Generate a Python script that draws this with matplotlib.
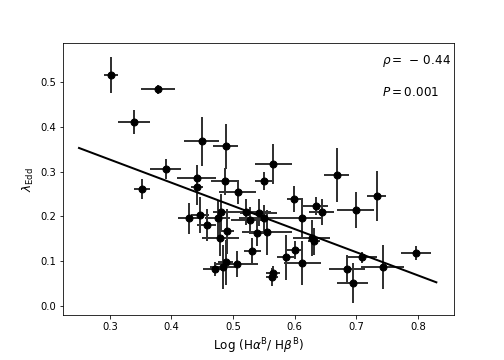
import numpy as np
import matplotlib
matplotlib.use("Agg")
import matplotlib.pyplot as plt

# Balmer decrement vs Eddington ratio
log_dec = [0.302, 0.378, 0.339, 0.449, 0.488, 0.391, 0.565, 0.352, 0.441, 0.441,
           0.487, 0.508, 0.550, 0.428, 0.446, 0.457, 0.475, 0.480, 0.479, 0.490,
           0.521, 0.527, 0.542, 0.550, 0.539, 0.555, 0.531, 0.506, 0.488, 0.483,
           0.470, 0.565, 0.563, 0.586, 0.600, 0.612, 0.628, 0.631, 0.612, 0.599,
           0.634, 0.644, 0.668, 0.699, 0.733, 0.685, 0.694, 0.709, 0.743, 0.797]
log_dec_err = [0.012, 0.028, 0.026, 0.028, 0.020, 0.025, 0.030, 0.013, 0.032, 0.010,
               0.022, 0.030, 0.014, 0.018, 0.015, 0.015, 0.020, 0.012, 0.030, 0.012,
               0.040, 0.030, 0.030, 0.040, 0.012, 0.040, 0.014, 0.035, 0.012, 0.020,
               0.018, 0.012, 0.010, 0.015, 0.013, 0.030, 0.030, 0.010, 0.030, 0.012,
               0.020, 0.020, 0.020, 0.030, 0.015, 0.030, 0.025, 0.025, 0.035, 0.025]
l_edd = [0.516, 0.484, 0.411, 0.368, 0.357, 0.306, 0.317, 0.261, 0.286, 0.266,
         0.279, 0.254, 0.279, 0.196, 0.203, 0.181, 0.196, 0.210, 0.152, 0.167,
         0.210, 0.192, 0.208, 0.196, 0.163, 0.165, 0.123, 0.094, 0.098, 0.087,
         0.083, 0.074, 0.065, 0.109, 0.125, 0.096, 0.152, 0.145, 0.196, 0.239,
         0.223, 0.210, 0.292, 0.214, 0.246, 0.083, 0.051, 0.109, 0.087, 0.118]
l_edd_err = [0.040, 0.010, 0.027, 0.055, 0.050, 0.022, 0.045, 0.022, 0.030, 0.040,
             0.030, 0.027, 0.020, 0.035, 0.040, 0.035, 0.040, 0.040, 0.040, 0.050,
             0.030, 0.030, 0.030, 0.030, 0.030, 0.050, 0.030, 0.030, 0.050, 0.050,
             0.015, 0.015, 0.020, 0.050, 0.020, 0.050, 0.040, 0.030, 0.045, 0.030,
             0.020, 0.030, 0.060, 0.040, 0.055, 0.030, 0.045, 0.012, 0.050, 0.015]

fit_x = [0.25, 0.83]
fit_y = [0.353, 0.053]

fig = plt.figure(figsize=(7, 5), dpi=72)
fig.subplots_adjust(left=0.125, right=0.9, top=0.88, bottom=0.125)
ax = fig.add_subplot(111)

ax.errorbar(log_dec, l_edd, xerr=log_dec_err, yerr=l_edd_err, fmt='o',
            color='black', ms=7, ecolor='#333333', elinewidth=2, capsize=0)
ax.plot(fit_x, fit_y, color='black', lw=2)

ax.text(0.742, 0.541, r'$\rho=\,-\,0.44$', fontsize=12)
ax.text(0.742, 0.470, r'$P=0.001$', fontsize=12)

ax.set_xlim(0.224, 0.858)
ax.set_ylim(-0.02, 0.587)
ax.set_xticks([0.3, 0.4, 0.5, 0.6, 0.7, 0.8])
ax.set_yticks([0.0, 0.1, 0.2, 0.3, 0.4, 0.5])
ax.set_xlabel(r'Log (H$\alpha^{\rm B}$/ H$\beta^{\rm B}$)', fontsize=12)
ax.set_ylabel(r'$\lambda_{\rm Edd}$', fontsize=12)

fig.savefig('out.png', dpi=72)
